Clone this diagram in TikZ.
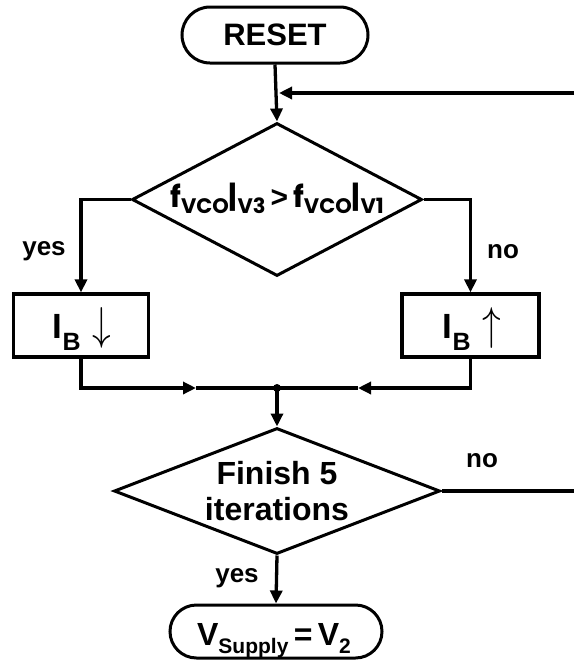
\documentclass[tikz,border=0pt]{standalone}
\usepackage{fontspec}
\setmainfont{Liberation Sans}
\newfontfamily\geo{Poppins}
\usetikzlibrary{shapes.geometric,shapes.misc,arrows.meta}
\newcommand{\geosub}[1]{\raisebox{-6pt}{\fontsize{21}{21}\selectfont #1}}
\newcommand{\blksub}[1]{\raisebox{-12pt}{\fontsize{25}{25}\selectfont\bfseries #1}}
\newcommand{\bigarrow}[1]{\raisebox{-1.3pt}{\scalebox{1.5}[1.85]{\fontsize{24.88}{25}\selectfont$#1$}}}
\begin{document}
\begin{tikzpicture}[x=1pt,y=-1pt,
  ln/.style={line width=3.3pt},
  arr/.style={ln,-{Triangle[length=13pt,width=12pt]}},
  stad/.style={rounded rectangle,draw,line width=3pt,inner sep=0pt},
  dia/.style={diamond,draw,line width=3pt,inner sep=0pt},
  blk/.style={rectangle,draw,line width=3.2pt,inner sep=0pt},
  lbl/.style={inner sep=0pt,font=\fontsize{26}{26}\selectfont\bfseries},
  big/.style={inner sep=0pt,font=\fontsize{32}{36}\selectfont\bfseries}]
\useasboundingbox (0,0) rectangle (574,662);
% nodes
\node[stad,minimum width=186pt,minimum height=56pt] (reset) at (275,35) {};
\node[big,font=\fontsize{31}{31}\selectfont\bfseries] (resett) at (275,35) {RESET};
\node[dia,minimum width=290pt,minimum height=153pt] (d1) at (277,199.5) {};
\node[inner sep=0pt] (d1t) at (277,198) {\geo\bfseries\fontsize{30}{30}\selectfont f\geosub{VCO}|\geosub{V3}\,{\rmfamily\bfseries >}\,f\geosub{VCO}|\geosub{V1}};
\node[blk,minimum width=135pt,minimum height=63pt] (lb) at (81,325.5) {};
\node[inner sep=0pt,anchor=base] (lbt) at (82,338) {{\fontsize{35}{35}\selectfont\bfseries I}\blksub{B}\hspace{12pt}\bigarrow{\downarrow}};
\node[blk,minimum width=137pt,minimum height=63pt] (rb) at (470.5,325.5) {};
\node[inner sep=0pt,anchor=base] (rbt) at (472,338) {{\fontsize{35}{35}\selectfont\bfseries I}\blksub{B}\hspace{12pt}\bigarrow{\uparrow}};
\node[dia,minimum width=326pt,minimum height=126pt] (d2) at (277,491) {};
\node[big,align=center] (d2t) at (277,491) {Finish 5\\iterations};
\node[stad,minimum width=212pt,minimum height=53pt] (fin) at (276,631.5) {};
\node[inner sep=0pt,anchor=base,font=\bfseries] (fint) at (274,645) {{\fontsize{32}{32}\selectfont V}\raisebox{-8pt}{\fontsize{21}{21}\selectfont Supply}{\fontsize{32}{32}\selectfont\,=\,V}\raisebox{-8pt}{\fontsize{21}{21}\selectfont 2}};
% labels
\node[lbl] (yes1) at (44,251) {yes};
\node[lbl] (no1) at (503,252) {no};
\node[lbl] (no2) at (482,461) {no};
\node[lbl] (yes2) at (237,578) {yes};
% coordinates
\coordinate (fbR) at (574,93);
\coordinate (fbL) at (279,93);
\coordinate (dot) at (277,388);
\coordinate (mL) at (196,388);
\coordinate (mR) at (358,388);
\coordinate (noR) at (574,491);
% connectors
\draw[arr] (reset.south) -- (d1.north);
\draw[arr] (fbR) -- (fbL);
\draw[arr] (d1.west) -| (lb.north);
\draw[arr] (d1.east) -| (rb.north);
\draw[arr] (lb.south) |- (mL);
\draw[ln] (mL) -- (dot);
\draw[arr] (rb.south) |- (mR);
\draw[ln] (mR) -- (dot);
\fill (dot) circle (4pt);
\draw[arr] (dot) -- (d2.north);
\draw[ln] (d2.east) -- (noR);
\draw[arr] (d2.south) -- (fin.north);
\end{tikzpicture}
\end{document}
